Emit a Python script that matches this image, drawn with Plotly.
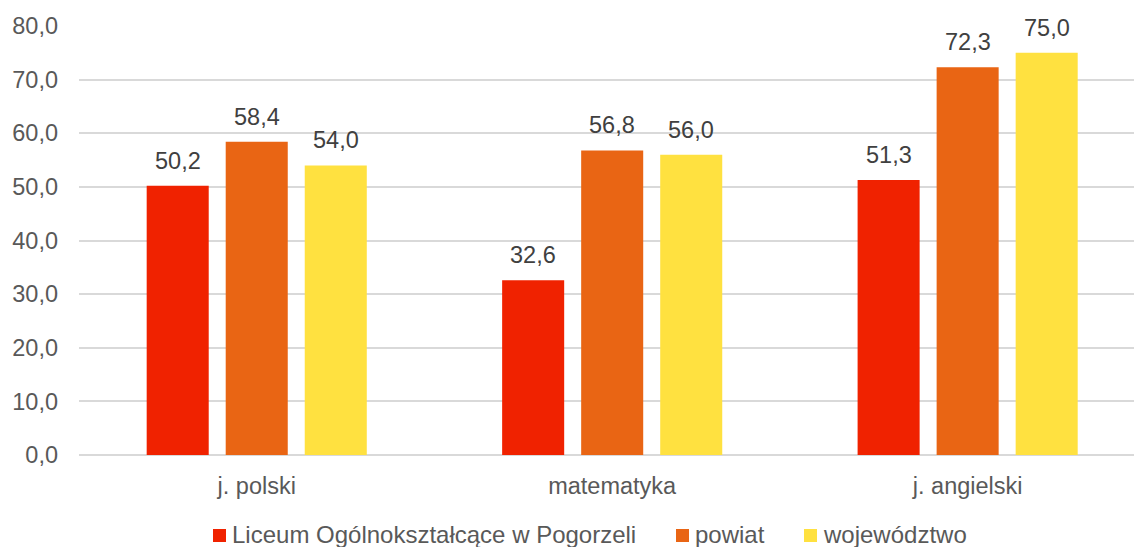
import plotly.graph_objects as go

# Subjects and average results (%)
subjects = ["j. polski", "matematyka", "j. angielski"]
liceum = [50.2, 32.6, 51.3]
powiat = [58.4, 56.8, 72.3]
wojewodztwo = [54.0, 56.0, 75.0]

series_names = ["Liceum Ogólnokształcące w Pogorzeli", "powiat", "województwo"]
series_values = [liceum, powiat, wojewodztwo]
series_colors = ["#F02200", "#E96514", "#FFE140"]

FONT = "Liberation Sans, Arial, sans-serif"
TEXT = "#595959"
LABEL = "#404040"

W, H = 1134, 547
M_L, M_R, M_T, M_B = 79, 0, 26, 92
PLOT_W = W - M_L - M_R
PLOT_H = H - M_T - M_B
SLOT_PX = 79  # pixel distance between neighbouring bars inside a group


def px_to_paper_x(px):
    return (px - M_L) / PLOT_W


def px_to_paper_y(py):
    return (H - M_B - py) / PLOT_H


fig = go.Figure()
for name, vals, color in zip(series_names, series_values, series_colors):
    fig.add_trace(go.Bar(
        x=subjects,
        y=vals,
        name=name,
        marker=dict(color=color, line=dict(width=0)),
        showlegend=False,
    ))

# value labels above each bar
for i, vals in enumerate(series_values):
    for subj, v in zip(subjects, vals):
        fig.add_annotation(
            x=subj, y=v, xref="x", yref="y",
            text=f"{v:.1f}".replace(".", ","),
            showarrow=False,
            xshift=(i - 1) * SLOT_PX,
            yanchor="bottom",
            yshift=10,
            font=dict(family=FONT, size=23.5, color=LABEL),
        )

# legend row below the chart: colour square followed by the series name
legend_marker_px = [213, 676, 804]
LEGEND_Y = 535.5
SQ = 13
for name, color, mx in zip(series_names, series_colors, legend_marker_px):
    fig.add_shape(
        type="rect", xref="paper", yref="paper",
        x0=px_to_paper_x(mx), x1=px_to_paper_x(mx + SQ),
        y0=px_to_paper_y(LEGEND_Y + SQ / 2), y1=px_to_paper_y(LEGEND_Y - SQ / 2),
        fillcolor=color, line=dict(width=0),
    )
    fig.add_annotation(
        x=px_to_paper_x(mx + SQ + 4), y=px_to_paper_y(LEGEND_Y - 1),
        xref="paper", yref="paper",
        text=name, showarrow=False,
        xanchor="left", yanchor="middle",
        font=dict(family=FONT, size=24, color=TEXT),
    )

fig.update_layout(
    width=W,
    height=H,
    paper_bgcolor="white",
    plot_bgcolor="white",
    separators=", ",
    barmode="group",
    bargap=0.333,
    bargroupgap=0.215,
    margin=dict(l=M_L, r=M_R, t=M_T, b=M_B, autoexpand=False),
    font=dict(family=FONT, size=23.5, color=TEXT),
    xaxis=dict(
        range=[-0.5, 2.468],
        showgrid=False,
        showline=False,
        ticks="",
        ticklabelstandoff=14,
        tickfont=dict(family=FONT, size=23.5, color=TEXT),
    ),
    yaxis=dict(
        range=[0, 80],
        dtick=10,
        tickformat=".1f",
        showgrid=True,
        gridcolor="#D9D9D9",
        gridwidth=1.5,
        zeroline=True,
        zerolinecolor="#D9D9D9",
        zerolinewidth=1.5,
        showline=False,
        ticks="",
        ticklabelstandoff=20,
        tickfont=dict(family=FONT, size=23.5, color=TEXT),
    ),
    showlegend=False,
)

fig.write_html("out.html")
